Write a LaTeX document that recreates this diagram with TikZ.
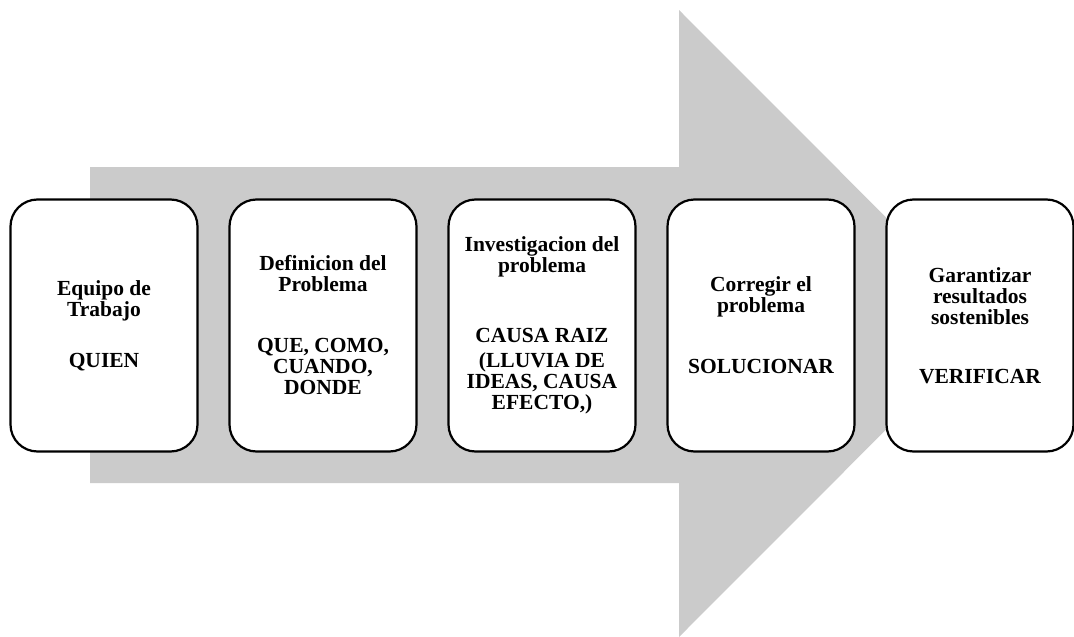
\documentclass[tikz,border=0pt]{standalone}
\usepackage{fontspec}
\setmainfont{Liberation Serif}
\usetikzlibrary{positioning}
\definecolor{flechagris}{RGB}{203,203,203}

\begin{document}
\begin{tikzpicture}[x=1pt, y=-1pt, node distance=32pt]
        \tikzset{
            % Estilo de las cajas
            caja/.style={
                    rectangle,
                    rounded corners=27pt,
                    draw=black, line width=2.2pt,
                    fill=white,
                    minimum width=187pt,
                    minimum height=252pt,
                    outer sep=0pt,
                    align=center,
                    font=\fontsize{21.5}{21}\selectfont\bfseries},
        }
        \useasboundingbox (0,0) rectangle (1074,637);
        % Flecha gris de fondo
        \fill[flechagris] (90,167) -- (679,167) -- (679,10) -- (992,323.5)
            -- (679,637) -- (679,483) -- (90,483) -- cycle;

        % Las etapas
        \node[caja] (e1) at (104,325.5) {Equipo de\\Trabajo\\[30pt]QUIEN};
        \node[caja, right=of e1] (e2) {Definicion del\\Problema\\[40pt]QUE, COMO,\\CUANDO,\\DONDE};
        \node[caja, right=of e2] (e3) {Investigacion del\\problema\\[49pt]CAUSA RAIZ\\[4pt](LLUVIA DE\\IDEAS, CAUSA\\EFECTO,)};
        \node[caja, right=of e3] (e4) {Corregir el\\problema\\[40pt]SOLUCIONAR};
        \node[caja, right=of e4] (e5) {Garantizar\\resultados\\sostenibles\\[38pt]VERIFICAR};
\end{tikzpicture}
\end{document}
